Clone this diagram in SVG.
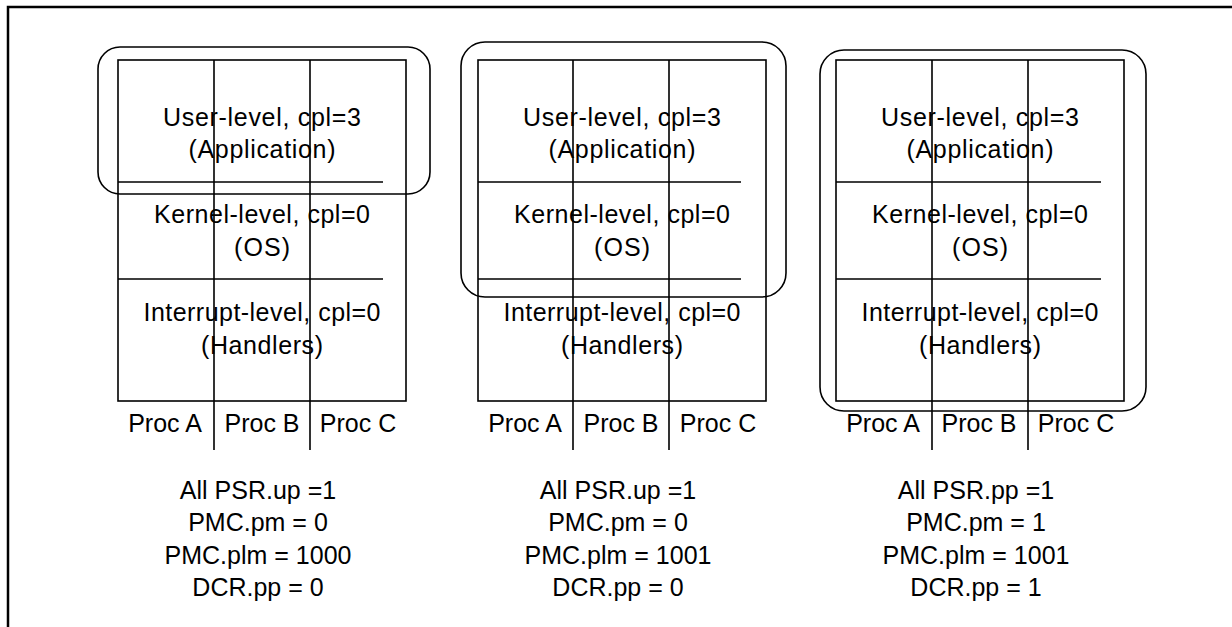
<svg xmlns="http://www.w3.org/2000/svg" width="1232" height="627" viewBox="0 0 1232 627">
<style>
text{font-family:"Liberation Sans",Arial,sans-serif;font-size:25px;fill:#000;text-anchor:middle}
.g{fill:none;stroke:#000;stroke-width:1.6}
.hl{fill:none;stroke:#000;stroke-width:1.6}
.frame{fill:none;stroke:#000;stroke-width:2.5}
</style>
<rect x="0" y="0" width="1232" height="627" fill="#fff"/>
<path class="frame" d="M8 627 V7 H1232"/>

<g id="panel1">
<rect class="g" x="118" y="60" width="288" height="341"/>
<path class="g" d="M214 60 V450 M310 60 V450 M118 182 H383 M118 279 H383"/>
<rect class="hl" x="98" y="47" width="332" height="147" rx="22"/>
<text x="262" y="126" textLength="198" lengthAdjust="spacing">User-level, cpl=3</text>
<text x="262" y="158" textLength="147" lengthAdjust="spacing">(Application)</text>
<text x="262" y="223" textLength="216" lengthAdjust="spacing">Kernel-level, cpl=0</text>
<text x="262" y="256" textLength="56" lengthAdjust="spacing">(OS)</text>
<text x="262" y="321" textLength="237" lengthAdjust="spacing">Interrupt-level, cpl=0</text>
<text x="262" y="354" textLength="122" lengthAdjust="spacing">(Handlers)</text>
<text x="165" y="432">Proc A</text>
<text x="262" y="432">Proc B</text>
<text x="358" y="432">Proc C</text>
<text x="258" y="499">All PSR.up =1</text>
<text x="258" y="531">PMC.pm = 0</text>
<text x="258" y="564">PMC.plm = 1000</text>
<text x="258" y="596">DCR.pp = 0</text>
</g>

<g id="panel2">
<rect class="g" x="478" y="60" width="288" height="341"/>
<path class="g" d="M573 60 V450 M669 60 V450 M478 182 H741 M478 279 H741"/>
<rect class="hl" x="461" y="42" width="325" height="255" rx="24"/>
<text x="622" y="126" textLength="198" lengthAdjust="spacing">User-level, cpl=3</text>
<text x="622" y="158" textLength="147" lengthAdjust="spacing">(Application)</text>
<text x="622" y="223" textLength="216" lengthAdjust="spacing">Kernel-level, cpl=0</text>
<text x="622" y="256" textLength="56" lengthAdjust="spacing">(OS)</text>
<text x="622" y="321" textLength="237" lengthAdjust="spacing">Interrupt-level, cpl=0</text>
<text x="622" y="354" textLength="122" lengthAdjust="spacing">(Handlers)</text>
<text x="525" y="432">Proc A</text>
<text x="621" y="432">Proc B</text>
<text x="718" y="432">Proc C</text>
<text x="618" y="499">All PSR.up =1</text>
<text x="618" y="531">PMC.pm = 0</text>
<text x="618" y="564">PMC.plm = 1001</text>
<text x="618" y="596">DCR.pp = 0</text>
</g>

<g id="panel3">
<rect class="g" x="836" y="60" width="288" height="341"/>
<path class="g" d="M932 60 V450 M1028 60 V450 M836 182 H1101 M836 279 H1101"/>
<rect class="hl" x="820" y="50" width="326" height="361" rx="24"/>
<text x="980" y="126" textLength="198" lengthAdjust="spacing">User-level, cpl=3</text>
<text x="980" y="158" textLength="147" lengthAdjust="spacing">(Application)</text>
<text x="980" y="223" textLength="216" lengthAdjust="spacing">Kernel-level, cpl=0</text>
<text x="980" y="256" textLength="56" lengthAdjust="spacing">(OS)</text>
<text x="980" y="321" textLength="237" lengthAdjust="spacing">Interrupt-level, cpl=0</text>
<text x="980" y="354" textLength="122" lengthAdjust="spacing">(Handlers)</text>
<text x="883" y="432">Proc A</text>
<text x="979" y="432">Proc B</text>
<text x="1076" y="432">Proc C</text>
<text x="976" y="499">All PSR.pp =1</text>
<text x="976" y="531">PMC.pm = 1</text>
<text x="976" y="564">PMC.plm = 1001</text>
<text x="976" y="596">DCR.pp = 1</text>
</g>
</svg>
